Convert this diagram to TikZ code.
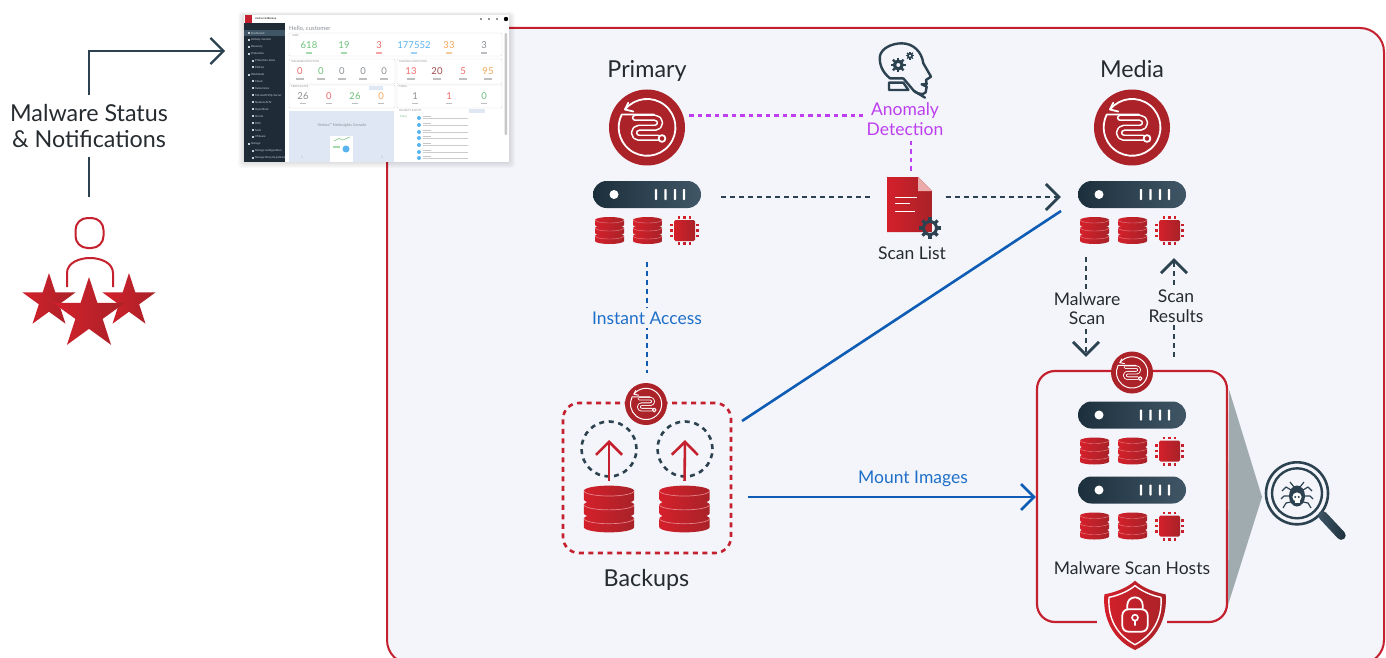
\documentclass[tikz,border=0pt]{standalone}
\usepackage{fontspec}
\setmainfont{Lato}
\usetikzlibrary{positioning,arrows.meta,shapes.geometric}

\definecolor{panelbg}{HTML}{F3F5FA}
\definecolor{redline}{HTML}{C4202E}
\definecolor{redlite}{HTML}{D4202B}
\definecolor{reddeep}{HTML}{A82228}
\definecolor{discred}{HTML}{AC2229}
\definecolor{inka}{HTML}{1C2F3C}
\definecolor{inkb}{HTML}{405666}
\definecolor{inkline}{HTML}{2C4250}
\definecolor{bluelink}{HTML}{0F5CB5}
\definecolor{bluetext}{HTML}{1F6FC9}
\definecolor{purplelink}{HTML}{BD3FEF}
\definecolor{fanfill}{HTML}{A0ABB0}
\definecolor{labelink}{HTML}{262B30}
\definecolor{numgreen}{HTML}{6CC17A}
\definecolor{numred}{HTML}{EE6A6A}
\definecolor{numblue}{HTML}{58B4EE}
\definecolor{numorange}{HTML}{F2A65A}
\definecolor{numgray}{HTML}{8A9095}
\definecolor{numdark}{HTML}{A5474C}
\definecolor{sidebar}{HTML}{1F2C38}
\definecolor{sidetext}{HTML}{C9D0D6}
\definecolor{consolebg}{HTML}{DEE7F3}

\tikzset{
  redshade/.style={left color=redlite,right color=reddeep},
  darkshade/.style={left color=inka,right color=inkb},
  biglabel/.style={font=\fontsize{23.3}{25.5}\selectfont,text=labelink,inner sep=0pt,align=center},
  midlabel/.style={font=\fontsize{17.5}{19.5}\selectfont,text=labelink,inner sep=0pt,align=center},
  restoredisc/.style={circle,fill=discred,inner sep=0pt,minimum size=#1},
  rack/.style={rectangle,darkshade,rounded corners=13.5pt,minimum width=108pt,minimum height=27pt,inner sep=0pt},
  holder/.style={rectangle,inner sep=0pt,minimum width=#1,minimum height=#1},
  darkdash/.style={draw=inkline,line width=2.8pt,dash pattern=on 5pt off 4pt},
  purpledash/.style={draw=purplelink,line width=2.8pt,dash pattern=on 4.5pt off 4pt},
  bluedash/.style={draw=bluelink,line width=2.8pt,dash pattern=on 5pt off 4pt},
  barb/.style={-{Straight Barb[length=13pt,width=26pt]}},
  hoststar/.style={star,star points=5,star point ratio=2.618,inner sep=0pt,redshade,minimum size=#1},
  shotnum/.style={font=\fontsize{9.5}{10}\selectfont,inner sep=0pt},
  shothead/.style={font=\fontsize{2.6}{3}\selectfont,text=numgray,inner sep=0pt,anchor=west},
  sidelabel/.style={font=\fontsize{2.8}{3}\selectfont,text=sidetext,inner sep=0pt,anchor=west},
  pics/restoreicon/.style={code={
    \begin{scope}[scale=#1,line width=#1*1.8pt,draw=white,line cap=round,line join=round]
      \draw (-18.7,-24.7) -- (-22,-18) -- (-13.7,-16);
      \draw (-22,-18) arc (219:567:28.4) -- (7,-12.9);
      \draw[line width=#1*6.4pt,rounded corners=#1*4.9pt] (-12,-9.7) -- (13,-9.7) -- (13,0.3) -- (-13,0.3) -- (-13,10.3) -- (11,10.3);
      \draw[discred,line width=#1*3.2pt,rounded corners=#1*4.9pt] (-12,-9.7) -- (13,-9.7) -- (13,0.3) -- (-13,0.3) -- (-13,10.3) -- (11,10.3);
      \draw[fill=discred] (15,11) circle (3.4);
    \end{scope}
  }},
  pics/diskstack/.style={code={
    \begin{scope}[scale=#1]
      \foreach \y in {8,0,-8} {
        \path[redshade] (-14.5,\y-2.5) -- (-14.5,\y+2.5) arc (180:0:14.5 and 3) -- (14.5,\y-2.5)
          arc (0:-180:14.5 and 3) -- cycle;
        \draw[redlite!55!white,line width=#1*0.4pt] (-14.5,\y-2.5) arc (180:0:14.5 and 3);
      }
    \end{scope}
  }},
  pics/chipicon/.style={code={
    \path[redshade,rounded corners=1.5pt] (-10.5,-10.5) rectangle (10.5,10.5);
    \foreach \p in {-5.5,0,5.5} {
      \fill[redlite] (\p-1.4,-14.5) rectangle (\p+1.4,-11.8);
      \fill[redline] (\p-1.4,11.8) rectangle (\p+1.4,14.5);
      \fill[redlite] (-14.5,\p-1.4) rectangle (-11.8,\p+1.4);
      \fill[redline] (11.8,\p-1.4) rectangle (14.5,\p+1.4);
    }
  }},
  pics/hostparts/.style={code={
    \fill[white] (-33,0) circle (4.5);
    \foreach \b in {9,18.5,28,37}
      \fill[white,rounded corners=0.8pt] (\b-1.2,-5.5) rectangle (\b+1.2,5.5);
    \pic at (-37.5,36) {diskstack=1};
    \pic at (0.5,36) {diskstack=1};
    \pic at (37.5,36) {chipicon};
  }},
  pics/gearicon/.style={code={
    \begin{scope}[scale=#1]
      \draw[inkline,line width=#1*3pt] (0,0) circle (6.5);
      \foreach \a in {0,45,...,315}
        \draw[inkline,line width=#1*3.2pt] (\a:7) -- (\a:10.7);
    \end{scope}
  }},
  pics/headgear/.style={code={
    \begin{scope}[scale=#1]
      \draw[inkline,line width=#1*4.6pt] (0,0) circle (5.5);
      \foreach \a in {0,45,...,315}
        \draw[inkline,line width=#1*3.2pt] (\a:6) -- (\a:10.7);
    \end{scope}
  }}
}

\begin{document}
\begin{tikzpicture}[x=1pt,y=-1pt]
  \clip (0,0) rectangle (1386,658);
  \fill[white] (0,0) rectangle (1386,658);

  % Panel
  \node[draw=redline,fill=panelbg,line width=2pt,rounded corners=24pt,minimum width=997pt,minimum height=636pt,inner sep=0pt] (panel) at (885.5,346) {};

  % Notification path
  \node[biglabel] (statuslabel) at (89,126) {Malware Status\\\& Notifications};
  \coordinate (consoleport) at (225,51);
  \draw[draw=inkline,line width=2.2pt,barb,shorten <=9pt] (statuslabel.north) |- (consoleport);
  \node[draw=redline,line width=2pt,rounded corners=12pt,minimum width=28pt,minimum height=30pt,inner sep=0pt] (analysthead) at (89.5,233) {};
  \draw[draw=inkline,line width=2.2pt,shorten <=9pt,shorten >=20pt] (statuslabel.south) -- (statuslabel.south |- analysthead.north);
  \draw[redline,line width=2pt] (67,287) -- (67,273) .. controls (67,263) and (79,258) .. (90,258)
    .. controls (101,258) and (113,263) .. (113,273) -- (113,287);
  \node[hoststar=56pt] (starleft) at (49,301) {};
  \node[hoststar=56pt] (starright) at (129,301) {};
  \node[hoststar=75pt] (starmid) at (89,314.5) {};

  % Console screenshot
  \foreach \g in {1,...,6}
    \fill[black,opacity=.018,rounded corners=3pt] (244-\g,15-\g*0.5) rectangle (509+\g,162+\g);
  \node[fill=white,minimum width=265pt,minimum height=147pt,inner sep=0pt] (console) at (376.5,88.5) {};
  \fill[redline] (245,15) rectangle (252,23);
  \node[shothead,text=black] (consolebrand) at (255,19) {Veritas NetBackup};
  \foreach \px [count=\i] in {481,489,497}
    \fill[labelink] (\px,19) circle (0.9);
  \fill[black] (506,19) circle (2.2);
  \fill[sidebar] (244,23) rectangle (285,162);
  \fill[inkb] (244,30) rectangle (285,36.5);
  \foreach \py/\txt/\tx [count=\i] in {33/Dashboard/251,40/Activity monitor/251,47/Recovery/251,53.7/Protection/251,
      60.7/Protection plans/255,67.3/Policies/255,74.7/Workloads/251,81.3/Cloud/255,88.3/Kubernetes/255,
      95.3/Microsoft SQL Server/255,102.3/Nutanix AHV/255,109.3/OpenStack/255,116/Oracle/255,123/RHV/255,
      130/SaaS/255,137/VMware/255,144/Storage/251,151/Storage configuration/255,158/Storage lifecycle policies/255} {
    \node[sidelabel] (side\i) at (\tx,\py) {\txt};
    \fill[sidetext] (\tx-3.5,\py-1) rectangle (\tx-1.5,\py+1);
  }
  \node[font=\fontsize{6}{7}\selectfont,text=numgray,inner sep=0pt,anchor=west] (hello) at (289,29) {Hello, customer};
  \draw[gray!30,line width=.4pt,rounded corners=1pt] (289,33) rectangle (502,56);
  \draw[gray!30,line width=.4pt,rounded corners=1pt] (289,59) rectangle (395,84);
  \draw[gray!30,line width=.4pt,rounded corners=1pt] (397,59) rectangle (502,84);
  \draw[gray!30,line width=.4pt,rounded corners=1pt] (289,85) rectangle (395,108);
  \draw[gray!30,line width=.4pt,rounded corners=1pt] (397,85) rectangle (502,108);
  \fill[gray!45,rounded corners=1pt] (504.5,33) rectangle (507,135);
  \node[shothead] (jobshead) at (292,36) {JOBS};
  \node[shothead] (malwarehead) at (291,62) {MALWARE DETECTION};
  \node[shothead] (anomalyhead) at (399,62) {ANOMALY DETECTION};
  \node[shothead] (certhead) at (291,87) {CERTIFICATES};
  \node[shothead] (taskhead) at (399,87) {TASKS};
  \node[shothead] (eventhead) at (399,111) {SECURITY EVENTS};
  \foreach \px/\val/\col [count=\i] in {309/618/numgreen,344/19/numgreen,379/3/numred,414/177552/numblue,449/33/numorange,484/3/numgray} {
    \node[shotnum,text=\col] (job\i) at (\px,45) {\val};
    \fill[\col!60] (\px-3,52.3) rectangle (\px+3,53.6);
  }
  \foreach \px/\val/\col [count=\i] in {300/0/numred,321/0/numgreen,342/0/numgray,363/0/numgray,384/0/numgray,
      411/13/numred,437/20/numdark,463/5/numred,488/95/numorange} {
    \node[shotnum,text=\col] (scan\i) at (\px,71) {\val};
    \fill[gray!50] (\px-4,78.5) rectangle (\px+4,79.6);
  }
  \foreach \px/\val/\col [count=\i] in {303/26/numgray,329/0/numred,355/26/numgreen,381/0/numorange,
      415/1/numgray,449/1/numred,484/0/numgreen} {
    \node[shotnum,text=\col] (cert\i) at (\px,96) {\val};
    \fill[gray!50] (\px-3,102.8) rectangle (\px+3,103.9);
  }
  \fill[consolebg] (369,86.5) rectangle (383,90.5);
  \fill[consolebg] (469,109.5) rectangle (485,113);
  \fill[consolebg] (289,111) rectangle (394,162);
  \node[font=\fontsize{3.8}{4}\selectfont,text=numgray,inner sep=0pt] (insights) at (342,125) {Veritas™ NetInsights Console};
  \fill[white] (330,136) rectangle (353,162);
  \fill[numgreen!60] (333,146) rectangle (340,148);
  \fill[numblue] (346,149) circle (3.5);
  \draw[numgreen,line width=.5pt] (334,141) -- (339,138.5) -- (343,140) -- (350,137);
  \node[font=\fontsize{5}{5}\selectfont,text=numgray,inner sep=0pt] (prevslide) at (302,157) {‹};
  \node[font=\fontsize{5}{5}\selectfont,text=numgray,inner sep=0pt] (nextslide) at (382,157) {›};
  \node[shothead,text=numgreen] (today) at (400,117) {Today};
  \foreach \py [count=\i] in {118,125,132,138,145,152,158} {
    \fill[numblue] (419,\py) circle (2);
    \fill[gray!45] (423,\py-1.6) rectangle (431,\py-0.9);
    \fill[gray!40] (423,\py+0.2) rectangle (468,\py+0.9);
  }

  % Primary site
  \node[biglabel] (primarylabel) at (647,71) {Primary};
  \node[restoredisc=76pt] (primaryicon) at (647,127.5) {};
  \pic at (primaryicon) {restoreicon=1};
  \node[rack] (primaryrack) at (647,194.5) {};
  \pic at (primaryrack) {hostparts};

  % Media site
  \node[biglabel] (medialabel) at (1132,69) {Media};
  \node[restoredisc=76pt] (mediaicon) at (1132,127.5) {};
  \pic at (mediaicon) {restoreicon=1};
  \node[rack] (mediarack) at (1132,194.5) {};
  \pic at (mediarack) {hostparts};

  % Anomaly head
  \begin{scope}[shift={(870,35)},scale=1/3,draw=inkline,line width=2.4pt,line join=round,line cap=round]
    \draw (100,130) -- (60,130) .. controls (35,110) and (27,85) .. (30,62)
      .. controls (35,40) and (65,25) .. (95,25) .. controls (130,25) and (155,50) .. (160,85)
      -- (183,125) -- (168,135) -- (170,147) -- (155,148) -- (170,155) -- (167,172) .. controls (160,180) and (145,178) .. (132,168)
      -- (100,130);
    \draw (132,168) -- (165,188);
    \draw (57,143) -- (100,143) -- (115,165) -- (57,165) -- cycle;
  \end{scope}
  \pic at (898.3,65) {headgear=.7};
  \pic at (910,55.7) {headgear=.38};
  \node[midlabel,text=purplelink] (anomalylabel) at (905,119) {Anomaly\\Detection};

  % Scan list
  \node[holder=46pt,minimum height=55pt] (scandoc) at (909.5,204.5) {};
  \path[redshade] (887,177) -- (918,177) -- (932,191) -- (932,232) -- (887,232) -- cycle;
  \fill[red!30!white!85!gray] (918,177) -- (932,191) -- (918,191) -- cycle;
  \draw[white,line width=1pt] (895,197) -- (917,197) (895,203) -- (910,203) (895,211) -- (915,211);
  \pic at (930,228) {gearicon=1};
  \node[midlabel] (scanlabel) at (912,253.5) {Scan List};

  % Links up top
  \draw[purpledash,shorten <=6pt,shorten >=3pt] (primaryicon.18) -- (primaryicon.18 -| anomalylabel.west);
  \draw[purpledash,shorten <=6pt,shorten >=6pt] ([xshift=1.5pt]scandoc.north) -- ([xshift=1.5pt]scandoc.north |- anomalylabel.south);
  \draw[darkdash,shorten <=20pt,shorten >=15pt] ([yshift=-2.5pt]primaryrack.east) -- ([yshift=-2.5pt]primaryrack.east -| scandoc.west);
  \draw[darkdash,barb,shorten <=13pt,shorten >=17pt] ([yshift=7.5pt]scandoc.east) -- ([yshift=7.5pt]scandoc.east -| mediarack.west);

  % Backups
  \node[draw=redline,line width=2.6pt,dash pattern=on 5pt off 4.5pt,rounded corners=16pt,minimum width=168pt,minimum height=150pt,inner sep=0pt] (backupbox) at (647,478) {};
  \node[restoredisc=42pt] (backupicon) at (646,404) {};
  \pic at (backupicon) {restoreicon=.55};
  \node[circle,draw=inkline,line width=2.6pt,dash pattern=on 5pt off 4.6pt,minimum size=55pt,inner sep=0pt] (upcirclea) at (609,449) {};
  \node[circle,draw=inkline,line width=2.6pt,dash pattern=on 5pt off 4.6pt,minimum size=55pt,inner sep=0pt] (upcircleb) at (685,449) {};
  \node[holder=50pt] (backupdiska) at (609,509) {};
  \node[holder=50pt] (backupdiskb) at (684.5,509) {};
  \pic at (backupdiska) {diskstack=1.73};
  \pic at (backupdiskb) {diskstack=1.73};
  \draw[redline,line width=2.6pt,barb,shorten <=3pt] (backupdiska.north) -- ([yshift=9pt]upcirclea.center);
  \draw[redline,line width=2.6pt,barb,shorten <=3pt] (backupdiskb.north) -- ([yshift=9pt]upcircleb.center);
  \node[biglabel] (backuplabel) at (646.5,580) {Backups};

  % Instant access
  \draw[bluedash,shorten <=54pt,shorten >=10pt] (primaryrack.south) -- (primaryrack.south |- backupicon.north);
  \node[midlabel,text=bluetext,fill=panelbg,inner ysep=4pt] (instantlabel) at (647,318) {Instant Access};

  % Malware scan hosts
  \node[draw=redline,fill=panelbg,line width=2.2pt,rounded corners=18pt,minimum width=190pt,minimum height=251pt,inner sep=0pt] (hostbox) at (1132,496.5) {};
  \fill[fanfill] (hostbox.north east) ++(1,20) -- (1262,497) -- (1228,605) -- cycle;
  \fill[panelbg] (1097,615) rectangle (1167,630);
  \node[restoredisc=42pt] (hosticon) at (1132,372.5) {};
  \pic at (hosticon) {restoreicon=.55};
  \node[rack] (hostracka) at (1132,415) {};
  \pic at (hostracka) {hostparts};
  \node[rack] (hostrackb) at (1132,490) {};
  \pic at (hostrackb) {hostparts};
  \node[midlabel] (hostlabel) at (1132,568.5) {Malware Scan Hosts};

  % Shield
  \begin{scope}[shift={(1095,575)},scale=1/3]
    \path[redshade] (120,17) .. controls (95,40) and (60,52) .. (28,58) .. controls (22,130) and (55,195) .. (120,225)
      .. controls (185,195) and (218,130) .. (212,58) .. controls (180,52) and (145,40) .. (120,17) -- cycle;
    \draw[white,line width=1.4pt,line join=round] (120,32) .. controls (98,50) and (68,62) .. (42,67) .. controls (38,130) and (65,180) .. (120,209)
      .. controls (175,180) and (202,130) .. (198,67) .. controls (172,62) and (142,50) .. (120,32) -- cycle;
    \draw[white,line width=1.8pt,rounded corners=6pt] (82,103) rectangle (158,170);
    \draw[white,line width=1.8pt] (97,103) -- (97,90) arc (180:360:23) -- (143,103);
    \draw[white,line width=1.6pt] (120,128) circle (9) (120,137) -- (120,152);
  \end{scope}

  % Magnifier
  \node[circle,draw=inkline,line width=2.6pt,minimum size=62pt,inner sep=0pt] (lensouter) at (1297,493.3) {};
  \node[circle,draw=inkline,line width=2.4pt,minimum size=50pt,inner sep=0pt] (lensinner) at (1297,493.3) {};
  \node[rectangle,rounded corners=4.5pt,inner sep=0pt,minimum width=36pt,minimum height=9pt,rotate=-47,left color=inkb,right color=inka] (lenshandle) at (1332,525.5) {};
  \begin{scope}[shift={(1297,496)},draw=inkline,line width=1.2pt,line join=round]
    \fill[inkline] (0,0) ellipse (8 and 10.5);
    \draw (-3,-9) -- (-7,-14) (3,-9) -- (7,-14);
    \foreach \s in {-1,1} {
      \draw (\s*6,-6) -- (\s*11,-9) -- (\s*15,-5);
      \draw (\s*7,0) -- (\s*13,0) -- (\s*16,3);
      \draw (\s*6,6) -- (\s*11,7) -- (\s*14,12);
    }
    \fill[white] (0,1) circle (4.6);
    \fill[white] (-2.5,3) rectangle (2.5,7);
    \fill[inkline] (-1.8,1) circle (1.1) (1.8,1) circle (1.1);
  \end{scope}

  % Blue links
  \coordinate (backupcorner) at (742,421);
  \coordinate (mediacorner) at (1061,211);
  \draw[bluelink,line width=2.6pt] (backupcorner) -- (mediacorner);
  \draw[bluelink,line width=2.6pt,barb,shorten <=16pt] ([yshift=-19pt]backupbox.east) -- ([yshift=-19pt]backupbox.east -| hostbox.west);
  \node[midlabel,text=bluetext] (mountlabel) at (913,478.5) {Mount Images};

  % Scan links
  \draw[darkdash,barb,shorten <=49pt,shorten >=13pt] ([xshift=-46pt]mediarack.south) -- ([xshift=-46pt]mediarack.south |- hostbox.north);
  \draw[darkdash,barb,shorten <=13pt,shorten >=50pt] ([xshift=42pt]hostbox.north) -- ([xshift=42pt]hostbox.north |- mediarack.south);
  \node[midlabel,fill=panelbg,inner ysep=3pt] (malwarelabel) at (1087,308.5) {Malware\\Scan};
  \node[midlabel,fill=panelbg,inner ysep=3pt] (resultslabel) at (1176,306) {Scan\\Results};
\end{tikzpicture}
\end{document}
